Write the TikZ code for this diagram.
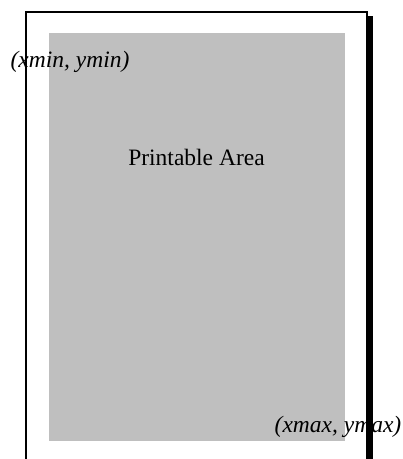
\documentclass[tikz,border=0pt]{standalone}
\usepackage{fontspec}
\setmainfont{Liberation Serif}
\usepackage{tikz}
\tikzset{
  sheet/.style = {draw=black, line width=2pt, fill=white},
  shadow/.style = {fill=black, draw=none},
  printarea/.style = {rectangle, fill=black!25, draw=none, inner sep=0pt,
    minimum width=296pt, minimum height=408pt},
  label/.style = {inner sep=0pt, font=\fontsize{23.5}{28}\selectfont},% normal text
  corner/.style = {label, font=\fontsize{23.5}{28}\selectfont\itshape}% corner coordinates
}

\begin{document}
\begin{tikzpicture}[x=1pt, y=-1pt]
	\useasboundingbox (0,0) rectangle (403,459);
	\clip (0,0) rectangle (403,459);
	\fill [shadow] (367,16) rectangle (373,470);
	\draw [sheet] (26,12) rectangle (367,470);
	\node [printarea, anchor=north west] (area) at (49,33) {};
	\node [label] (title) at (196.5,157) {Printable Area};
	\node [corner] (topleft) at (70,62) {(xmin, ymin)};
	\node [corner] (bottomright) at (338,427) {(xmax, ymax)};
\end{tikzpicture}
\end{document}
